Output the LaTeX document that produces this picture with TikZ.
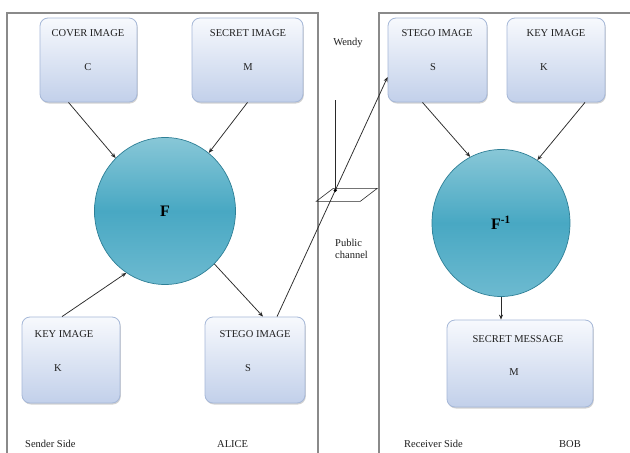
\documentclass[tikz,border=0pt]{standalone}
\usepackage{fontspec}
\setmainfont{Liberation Serif}
\usetikzlibrary{arrows.meta,shadows,calc,shapes.geometric}
\definecolor{boxtop}{HTML}{F7F9FD}
\definecolor{boxbot}{HTML}{C2D0EA}
\definecolor{boxline}{HTML}{A6B8D8}
\definecolor{circtop}{HTML}{88C7D7}
\definecolor{circmid}{HTML}{48A8C3}
\definecolor{circbot}{HTML}{6DBAD0}
\definecolor{circline}{HTML}{2E7F96}
\definecolor{panelline}{HTML}{8A8A8A}
\definecolor{arrline}{HTML}{2A2A2A}
\begin{document}
\begin{tikzpicture}[x=1pt,y=-1pt,
  font=\fontsize{10.5}{12}\selectfont,
  imgbox/.style={draw=boxline, line width=0.8pt, rounded corners=8pt,
    top color=boxtop, bottom color=boxbot,
    drop shadow={opacity=0.35, shadow xshift=0.8pt, shadow yshift=-1.5pt},
    inner sep=0pt},
  fcirc/.style={ellipse, draw=circline, line width=0.7pt,
    top color=circtop, bottom color=circbot, middle color=circmid,
    inner sep=0pt, font=\fontsize{16}{18}\selectfont\bfseries},
  panel/.style={draw=panelline, line width=1.1pt},
  arr/.style={draw=arrline, line width=0.75pt, -{Stealth[length=5pt,width=4pt]}},
  thin/.style={draw=arrline, line width=0.6pt},
  txt/.style={inner sep=0pt, text=black!88}]
\useasboundingbox (0,0) rectangle (630,453);
\fill[white] (0,0) rectangle (630,453);

% panels
\draw[panel] (7,456) -- (7,13) -- (318,13) -- (318,456);
\draw[panel] (379,456) -- (379,13) -- (632,13);

% sender boxes
\node[imgbox, minimum width=97pt, minimum height=84pt] (cover) at (88.5,60) {};
\node[txt] (covert) at (88,33) {COVER IMAGE};
\node[txt] (coverl) at (88,67) {C};
\node[imgbox, minimum width=111pt, minimum height=84pt] (secret) at (247.5,60) {};
\node[txt] (secrett) at (248,33) {SECRET IMAGE};
\node[txt] (secretl) at (248,67) {M};
\node[imgbox, minimum width=98pt, minimum height=86pt] (keyl) at (71,360) {};
\node[txt] (keylt) at (64,334) {KEY IMAGE};
\node[txt] (keyll) at (58,368) {K};
\node[imgbox, minimum width=100pt, minimum height=86pt] (stegol) at (255,360) {};
\node[txt] (stegolt) at (255,334) {STEGO IMAGE};
\node[txt] (stegoll) at (248,368) {S};

\node[fcirc, minimum width=141pt, minimum height=147pt] (F) at (165,211) {F};

% receiver boxes
\node[imgbox, minimum width=99pt, minimum height=84pt] (stegor) at (437.5,60) {};
\node[txt] (stegort) at (437,33) {STEGO IMAGE};
\node[txt] (stegorl) at (433,67) {S};
\node[imgbox, minimum width=98pt, minimum height=84pt] (keyr) at (556,60) {};
\node[txt] (keyrt) at (556,33) {KEY IMAGE};
\node[txt] (keyrl) at (544,67) {K};
\node[fcirc, minimum width=138pt, minimum height=147pt] (Fi) at (501,223) {F\textsuperscript{-1}};
\node[imgbox, minimum width=146pt, minimum height=87pt] (smsg) at (520,363.5) {};
\node[txt] (smsgt) at (518,339) {SECRET MESSAGE};
\node[txt] (smsgl) at (514,372) {M};

% labels
\node[txt, anchor=west] (sender) at (25,444) {Sender Side};
\node[txt, anchor=west] (alice) at (217,444) {ALICE};
\node[txt, anchor=west] (receiver) at (404,444) {Receiver Side};
\node[txt, anchor=west] (bob) at (559,444) {BOB};
\node[txt] (wendy) at (348,43) {Wendy};
\node[txt, anchor=west, align=left] (pub) at (335,249) {Public\\channel};

% arrows sender
\draw[arr] ([xshift=-20pt]cover.south) -- (F.133);
\draw[arr] (secret.south) -- (F.53);
\draw[arr] ([xshift=-9pt]keyl.north) -- (F.-122);
\draw[arr] (F.-47) -- ([xshift=8pt]stegol.north);

% public channel
\coordinate (s1) at ([xshift=22pt]stegol.north);
\coordinate (s2) at ([yshift=-17pt]stegor.west);
\draw[arr] (s1) -- (s2);
\coordinate (wdot) at ($(s1)!0.527!(s2)$);
\coordinate (wtop) at (wdot |- 0,100);
\draw[thin] (wtop) -- (wdot);
\coordinate (pa) at ($(wdot)+(-2,-2)$);
\coordinate (pb) at ($(wdot)+(42,-2)$);
\coordinate (pc) at ($(wdot)+(25,11)$);
\coordinate (pd) at ($(wdot)+(-19,11)$);
\draw[thin] (pa) -- (pb) -- (pc) -- (pd) -- cycle;
\fill[black] (wdot) circle (1.8pt);

% arrows receiver
\draw[arr] ([xshift=-15pt]stegor.south) -- (Fi.115);
\draw[arr] ([xshift=29pt]keyr.south) -- (Fi.60);
\draw[arr] (Fi.south) -- (Fi.south |- smsg.north);
\end{tikzpicture}
\end{document}
